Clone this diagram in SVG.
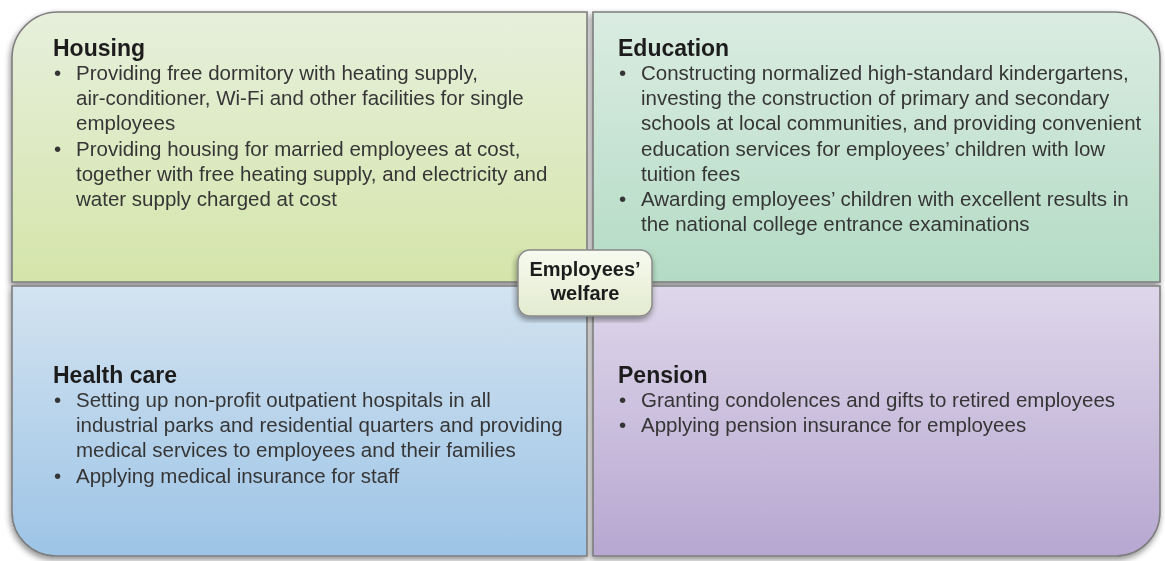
<svg xmlns="http://www.w3.org/2000/svg" width="1165" height="561" viewBox="0 0 1165 561">
  <defs>
    <linearGradient id="gHousing" x1="0" y1="0" x2="0" y2="1">
      <stop offset="0" stop-color="#e7efdc"/>
      <stop offset="1" stop-color="#d4e5aa"/>
    </linearGradient>
    <linearGradient id="gEducation" x1="0" y1="0" x2="0" y2="1">
      <stop offset="0" stop-color="#dbece2"/>
      <stop offset="1" stop-color="#b3dbc4"/>
    </linearGradient>
    <linearGradient id="gHealth" x1="0" y1="0" x2="0" y2="1">
      <stop offset="0" stop-color="#d3e3f0"/>
      <stop offset="1" stop-color="#9dc4e6"/>
    </linearGradient>
    <linearGradient id="gPension" x1="0" y1="0" x2="0" y2="1">
      <stop offset="0" stop-color="#ded7ea"/>
      <stop offset="1" stop-color="#b7a7d1"/>
    </linearGradient>
    <linearGradient id="gCenter" x1="0" y1="0" x2="0" y2="1">
      <stop offset="0" stop-color="#f7faf0"/>
      <stop offset="1" stop-color="#e3ebcf"/>
    </linearGradient>
    <filter id="shadow" x="-5%" y="-5%" width="110%" height="115%">
      <feGaussianBlur in="SourceAlpha" stdDeviation="3"/>
      <feOffset dx="-1" dy="3" result="blur"/>
      <feComponentTransfer><feFuncA type="linear" slope="0.45"/></feComponentTransfer>
      <feMerge><feMergeNode/><feMergeNode in="SourceGraphic"/></feMerge>
    </filter>
    <style>
      .quad { stroke: #7d7d7d; stroke-width: 1.6; }
      .head { font-family: "Liberation Sans", Arial, Helvetica, sans-serif; font-weight: bold; font-size: 23px; fill: #1e1e1e; }
      .body { font-family: "Liberation Sans", Arial, Helvetica, sans-serif; font-size: 20.5px; fill: #363636; }
      .center { font-family: "Liberation Sans", Arial, Helvetica, sans-serif; font-weight: bold; font-size: 20px; fill: #1e1e1e; text-anchor: middle; }
    </style>
  </defs>

  <rect width="1165" height="561" fill="#ffffff"/>

  <!-- four welfare quadrants -->
  <g filter="url(#shadow)">
    <g id="housing">
      <path class="quad" fill="url(#gHousing)" d="M12,282 V58 A46,46 0 0 1 58,12 H587 V282 Z"/>
      <text class="head" x="53" y="56">Housing</text>
      <text class="body">
        <tspan x="54" y="80">•</tspan><tspan x="76" y="80">Providing free dormitory with heating supply,</tspan>
        <tspan x="76" y="105.2">air-conditioner, Wi-Fi and other facilities for single</tspan>
        <tspan x="76" y="130.4">employees</tspan>
        <tspan x="54" y="155.6">•</tspan><tspan x="76" y="155.6">Providing housing for married employees at cost,</tspan>
        <tspan x="76" y="180.8">together with free heating supply, and electricity and</tspan>
        <tspan x="76" y="206">water supply charged at cost</tspan>
      </text>
    </g>

    <g id="education">
      <path class="quad" fill="url(#gEducation)" d="M593,12 H1114 A46,46 0 0 1 1160,58 V282 H593 Z"/>
      <text class="head" x="618" y="56">Education</text>
      <text class="body">
        <tspan x="619" y="80">•</tspan><tspan x="641" y="80">Constructing normalized high-standard kindergartens,</tspan>
        <tspan x="641" y="105.2">investing the construction of primary and secondary</tspan>
        <tspan x="641" y="130.4">schools at local communities, and providing convenient</tspan>
        <tspan x="641" y="155.6">education services for employees’ children with low</tspan>
        <tspan x="641" y="180.8">tuition fees</tspan>
        <tspan x="619" y="206">•</tspan><tspan x="641" y="206">Awarding employees’ children with excellent results in</tspan>
        <tspan x="641" y="231.2">the national college entrance examinations</tspan>
      </text>
    </g>

    <g id="health-care">
      <path class="quad" fill="url(#gHealth)" d="M12,286 H587 V556 H56 A44,44 0 0 1 12,512 Z"/>
      <text class="head" x="53" y="383">Health care</text>
      <text class="body">
        <tspan x="54" y="407">•</tspan><tspan x="76" y="407">Setting up non-profit outpatient hospitals in all</tspan>
        <tspan x="76" y="432.2">industrial parks and residential quarters and providing</tspan>
        <tspan x="76" y="457.4">medical services to employees and their families</tspan>
        <tspan x="54" y="482.6">•</tspan><tspan x="76" y="482.6">Applying medical insurance for staff</tspan>
      </text>
    </g>

    <g id="pension">
      <path class="quad" fill="url(#gPension)" d="M593,286 H1160 V512 A44,44 0 0 1 1116,556 H593 Z"/>
      <text class="head" x="618" y="383">Pension</text>
      <text class="body">
        <tspan x="619" y="407">•</tspan><tspan x="641" y="407">Granting condolences and gifts to retired employees</tspan>
        <tspan x="619" y="432.2">•</tspan><tspan x="641" y="432.2">Applying pension insurance for employees</tspan>
      </text>
    </g>
  </g>

  <!-- central topic -->
  <g id="employees-welfare" filter="url(#shadow)">
    <rect x="518" y="250" width="134" height="66" rx="12" fill="url(#gCenter)" stroke="#8a8a8a" stroke-width="1.5"/>
    <text class="center" x="585" y="276">Employees’</text>
    <text class="center" x="585" y="300">welfare</text>
  </g>

  <g id="connectors"/>
</svg>
